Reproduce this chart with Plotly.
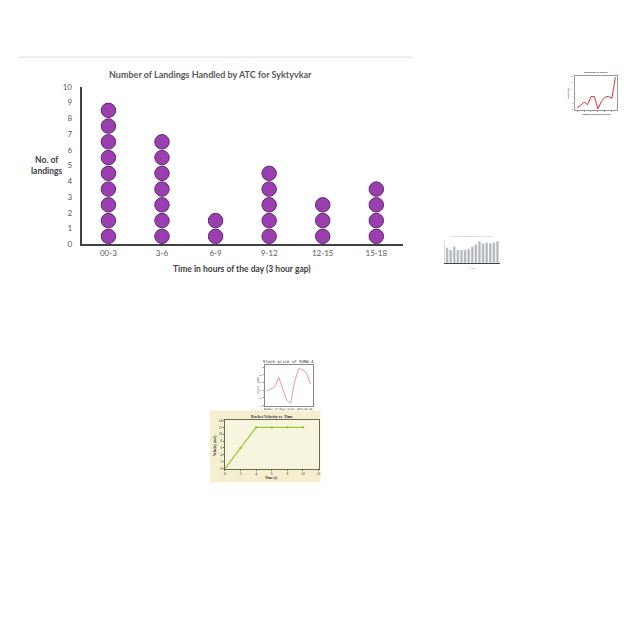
import plotly.graph_objects as go

# ---------------- data ----------------
categories = ["00-3", "3-6", "6-9", "9-12", "12-15", "15-18"]
landings = [9, 7, 2, 5, 3, 4]
y_ticks = [0, 1, 2, 3, 4, 5, 6, 7, 8, 9, 10]

thumb_line_x = [0, 1, 2, 3, 4, 5, 6, 7, 8, 9, 10, 11]
thumb_line_y = [0.5, 1.2, 2.2, 1.4, 3.8, 3.8, 0.1, 2.4, 3.6, 3.9, 3.3, 9.6]

thumb_bars = [7, 6, 7.5, 6, 6, 6, 6.5, 7.5, 8.5, 10, 9, 9.5, 9, 9.5, 10]

stock_x = [0, 1, 2, 3, 4, 5, 6, 7, 8, 9, 10, 11]
stock_y = [0.38, 0.42, 0.48, 0.74, 0.42, 0.14, 0.06, 0.62, 0.97, 0.93, 0.85, 0.56]

rocket_t = [0, 2, 4, 6, 8, 10]
rocket_v = [0, 6, 12, 12, 12, 12]

W = H = 640


def fx(px):
    return px / W


def fy(py):
    return 1 - py / H


fig = go.Figure()

# ---------------- main dot plot ----------------
dot_x, dot_y = [], []
for i, n in enumerate(landings):
    for k in range(n):
        dot_x.append(i)
        dot_y.append(k + 0.5)

fig.add_trace(go.Scatter(
    x=dot_x, y=dot_y, mode="markers",
    marker=dict(size=14.5, color="#9b3fb0", line=dict(color="#5f2a70", width=1)),
    xaxis="x", yaxis="y", showlegend=False, hoverinfo="skip"))

main_font = "Lato, 'Open Sans', sans-serif"

# ---------------- thumbnail 1: red line ----------------
fig.add_trace(go.Scatter(
    x=thumb_line_x, y=thumb_line_y, mode="lines",
    line=dict(color="#e0303a", width=1),
    xaxis="x2", yaxis="y2", showlegend=False, hoverinfo="skip"))

# ---------------- thumbnail 2: grey bars ----------------
fig.add_trace(go.Bar(
    x=list(range(len(thumb_bars))), y=thumb_bars,
    marker=dict(color="#b4b4b4"), width=0.7,
    xaxis="x3", yaxis="y3", showlegend=False, hoverinfo="skip"))

# ---------------- thumbnail 3: stock price ----------------
fig.add_trace(go.Scatter(
    x=stock_x, y=stock_y, mode="lines",
    line=dict(color="#f29a9a", width=1),
    xaxis="x4", yaxis="y4", showlegend=False, hoverinfo="skip"))

# ---------------- thumbnail 4: rocket velocity ----------------
fig.add_trace(go.Scatter(
    x=rocket_t, y=rocket_v, mode="lines+markers",
    line=dict(color="#9cc83a", width=1.2),
    marker=dict(size=2.5, color="#9cc83a"),
    xaxis="x5", yaxis="y5", showlegend=False, hoverinfo="skip"))

tiny = dict(size=2.5, color="#777777")


def note(text, px, py, size, color, family=None, angle=0, bold=False):
    f = dict(size=size, color=color)
    if family:
        f["family"] = family
    return dict(text=("<b>%s</b>" % text) if bold else text,
                x=fx(px), y=fy(py), xref="paper", yref="paper",
                xanchor="center", yanchor="middle", showarrow=False,
                textangle=angle, font=f)


fig.update_layout(
    width=W, height=H,
    margin=dict(l=0, r=0, t=0, b=0),
    paper_bgcolor="white",
    plot_bgcolor="rgba(0,0,0,0)",
    font=dict(family=main_font, color="#595959"),
    # main
    xaxis=dict(domain=[fx(81), fx(404)], range=[-0.5, 5.5],
               tickvals=list(range(len(categories))), ticktext=categories,
               showline=True, linecolor="#404040", linewidth=2,
               showgrid=False, zeroline=False, ticks="",
               tickfont=dict(size=8, color="#595959", family=main_font),
               anchor="y", fixedrange=True),
    yaxis=dict(domain=[fy(243), fy(83)], range=[0, 10],
               tickvals=y_ticks,
               showline=True, linecolor="#404040", linewidth=2,
               showgrid=False, zeroline=False, ticks="",
               ticklabelstandoff=6,
               tickfont=dict(size=8, color="#595959", family=main_font),
               anchor="x", fixedrange=True),
    # thumb 1
    xaxis2=dict(domain=[fx(577), fx(619)], range=[-0.5, 11.5], anchor="y2",
                showline=True, linecolor="#999999", linewidth=0.5, mirror=True,
                showgrid=False, zeroline=False, ticks="outside", ticklen=1,
                tickcolor="#999999", showticklabels=False, dtick=2),
    yaxis2=dict(domain=[fy(107), fy(72)], range=[-0.3, 10], anchor="x2",
                showline=True, linecolor="#999999", linewidth=0.5, mirror=True,
                showgrid=False, zeroline=False, ticks="outside", ticklen=1,
                tickcolor="#999999", showticklabels=True, tickfont=tiny,
                dtick=2),
    # thumb 2
    xaxis3=dict(domain=[fx(446), fx(501)], range=[-0.6, 14.6], anchor="y3",
                showline=True, linecolor="#444444", linewidth=1,
                showgrid=False, zeroline=False, showticklabels=False),
    yaxis3=dict(domain=[fy(262), fy(239)], range=[0, 10.5], anchor="x3",
                showline=True, linecolor="#dddddd", linewidth=0.5,
                showgrid=False, zeroline=False, showticklabels=False),
    # thumb 3
    xaxis4=dict(domain=[fx(265), fx(313)], range=[-0.5, 11.5], anchor="y4",
                showline=True, linecolor="#888888", linewidth=0.5, mirror=True,
                showgrid=False, zeroline=False, ticks="outside", ticklen=1,
                tickcolor="#888888", showticklabels=False),
    yaxis4=dict(domain=[fy(407), fy(366)], range=[0, 1.05], anchor="x4",
                showline=True, linecolor="#888888", linewidth=0.5, mirror=True,
                showgrid=False, zeroline=False, ticks="outside", ticklen=1,
                tickcolor="#888888", showticklabels=True, dtick=0.2,
                tickfont=dict(size=2.5, color="#666666")),
    # thumb 4
    xaxis5=dict(domain=[fx(225), fx(319)], range=[0, 12], anchor="y5",
                showline=True, linecolor="#6b6b55", linewidth=0.8, mirror=True,
                showgrid=False, zeroline=False, ticks="outside", ticklen=1,
                tickcolor="#6b6b55", dtick=2,
                tickfont=dict(size=3.5, color="#333333", family="Liberation Serif")),
    yaxis5=dict(domain=[fy(471), fy(422)], range=[0, 14], anchor="x5",
                showline=True, linecolor="#6b6b55", linewidth=0.8, mirror=True,
                showgrid=False, zeroline=False, ticks="outside", ticklen=1,
                tickcolor="#6b6b55", dtick=2,
                tickfont=dict(size=3.5, color="#333333", family="Liberation Serif")),
    shapes=[
        dict(type="line", xref="paper", yref="paper",
             x0=fx(17), x1=fx(413), y0=fy(53), y1=fy(53),
             line=dict(color="#dedede", width=1)),
        dict(type="rect", xref="paper", yref="paper", layer="below",
             x0=fx(210), x1=fx(321), y0=fy(485), y1=fy(412),
             fillcolor="#f4efcf", line=dict(width=0)),
        dict(type="rect", xref="paper", yref="paper", layer="below",
             x0=fx(225), x1=fx(319), y0=fy(471), y1=fy(422),
             fillcolor="#f8f5de", line=dict(width=0)),
    ],
    annotations=[
        note("Number of Landings Handled by ATC for Syktyvkar", 210, 71, 9,
             "#595959", main_font, bold=True),
        note("No. of<br>landings", 46, 163, 8.5, "#404040", main_font, bold=True),
        note("Time in hours of the day (3 hour gap)", 242, 268, 8.5,
             "#404040", main_font, bold=True),
        # thumb 1 texts
        note("Stock price of GOOG", 598, 69, 2.5, "#222222", bold=True),
        note("Number of days prior to 2013", 598, 111, 2.2, "#222222", bold=True),
        note("Price (USD)", 570, 90, 2.2, "#222222", angle=-90, bold=True),
        # thumb 2 texts
        note("Monthly average temperature over the years", 473, 235, 2.2, "#aaaaaa"),
        note("Month", 474, 267, 2.2, "#aaaaaa"),
        # thumb 3 texts
        note("Stock price of SUNW.A", 289, 362, 4, "#333333", "DejaVu Sans Mono"),
        note("Number of Days prior 2013-08-28", 289, 411, 2.6, "#333333",
             "DejaVu Sans Mono"),
        note("Price (USD)", 259, 386, 2.6, "#333333", "DejaVu Sans Mono", angle=-90),
        # thumb 4 texts
        note("Rocket Velocity vs. Time", 272, 418, 4, "#333333",
             "Liberation Serif", bold=True),
        note("Time (s)", 272, 481, 3.5, "#333333", "Liberation Serif", bold=True),
        note("Velocity (m/s)", 215, 447, 3.5, "#333333", "Liberation Serif",
             angle=-90, bold=True),
    ],
)

fig.write_html("out.html")
